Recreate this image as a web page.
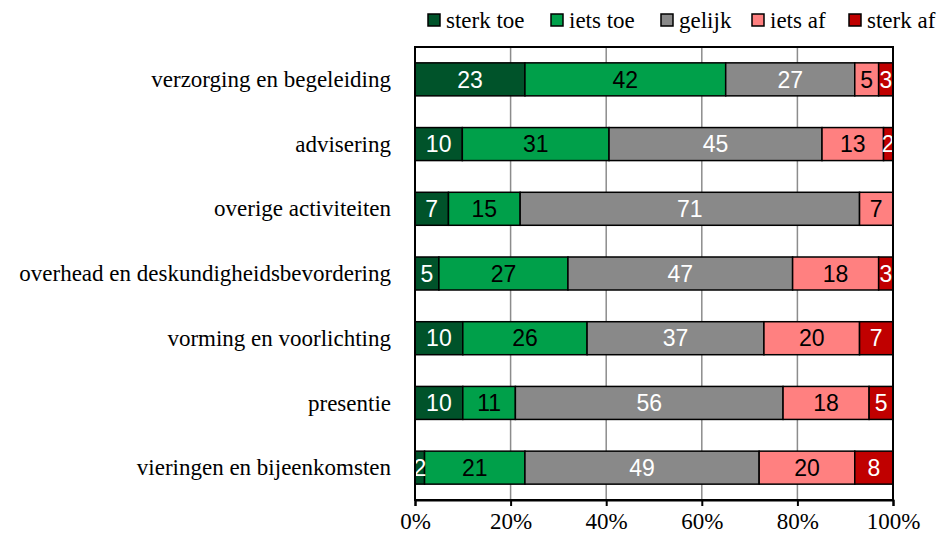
<!DOCTYPE html>
<html>
<head>
<meta charset="utf-8">
<script src="https://cdn.jsdelivr.net/npm/d3@7"></script>
<style>
  body { margin: 0; background: #fff; }
</style>
</head>
<body>
<div id="chart"></div>
<script>
const categories = [
  "verzorging en begeleiding",
  "advisering",
  "overige activiteiten",
  "overhead en deskundigheidsbevordering",
  "vorming en voorlichting",
  "presentie",
  "vieringen en bijeenkomsten",
];
const seriesNames = ["sterk toe", "iets toe", "gelijk", "iets af", "sterk af"];
const sterkToe = [23, 10, 7, 5, 10, 10, 2];
const ietsToe = [42, 31, 15, 27, 26, 11, 21];
const gelijk = [27, 45, 71, 47, 37, 56, 49];
const ietsAf = [5, 13, 7, 18, 20, 18, 20];
const sterkAf = [3, 2, 0, 3, 7, 5, 8];
const xTicks = [0, 0.2, 0.4, 0.6, 0.8, 1];

const colors = ["#00532a", "#00a04a", "#898989", "#ff8080", "#c00000"];
const labelColors = ["#fff", "#000", "#fff", "#000", "#fff"];
const serif = '"Liberation Serif", serif';
const sans = '"Liberation Sans", sans-serif';

const width = 938, height = 545;
const margin = { top: 47, right: 45, bottom: 45, left: 415 };

const svg = d3
  .select("#chart")
  .append("svg")
  .attr("width", width)
  .attr("height", height);

const x = d3
  .scaleLinear()
  .domain([0, 1])
  .range([margin.left, width - margin.right]);

const y = d3
  .scaleBand()
  .domain(categories)
  .range([margin.top, height - margin.bottom])
  .paddingInner(0.49)
  .paddingOuter(0.245);

// Build stacked rows (Excel 100% stack normalises each row)
const allSeries = [sterkToe, ietsToe, gelijk, ietsAf, sterkAf];
const rows = categories.map((cat, i) => {
  const vals = allSeries.map((s) => s[i]);
  const total = d3.sum(vals);
  let acc = 0;
  return vals.map((v, k) => {
    const seg = { cat, k, value: v, x0: acc / total, x1: (acc + v) / total };
    acc += v;
    return seg;
  });
});

// gridlines
svg
  .append("g")
  .selectAll("line")
  .data(xTicks.slice(1, -1))
  .join("line")
  .attr("x1", (d) => x(d))
  .attr("x2", (d) => x(d))
  .attr("y1", margin.top)
  .attr("y2", height - margin.bottom)
  .attr("stroke", "#8c8c8c")
  .attr("stroke-width", 1.5);

// bars
const segs = rows.flat().filter((d) => d.value > 0);
svg
  .append("g")
  .selectAll("rect")
  .data(segs)
  .join("rect")
  .attr("x", (d) => x(d.x0))
  .attr("y", (d) => y(d.cat))
  .attr("width", (d) => x(d.x1) - x(d.x0))
  .attr("height", y.bandwidth())
  .attr("fill", (d) => colors[d.k])
  .attr("stroke", "#000")
  .attr("stroke-width", 1.5);

svg
  .append("g")
  .selectAll("text")
  .data(segs)
  .join("text")
  .attr("x", (d) => (x(d.x0) + x(d.x1)) / 2)
  .attr("y", (d) => y(d.cat) + y.bandwidth() / 2)
  .attr("dy", "0.36em")
  .attr("text-anchor", "middle")
  .style("font-family", sans)
  .style("font-size", "23px")
  .attr("fill", (d) => labelColors[d.k])
  .text((d) => d.value);

// plot frame
svg
  .append("rect")
  .attr("x", margin.left)
  .attr("y", margin.top)
  .attr("width", x(1) - x(0))
  .attr("height", height - margin.bottom - margin.top)
  .attr("fill", "none")
  .attr("stroke", "#000")
  .attr("stroke-width", 2);

// x axis
const xAxis = svg
  .append("g")
  .attr("transform", `translate(0,${height - margin.bottom})`)
  .call(
    d3
      .axisBottom(x)
      .tickValues(xTicks)
      .tickSize(6)
      .tickPadding(7)
      .tickFormat(d3.format(".0%"))
  );
xAxis.select(".domain").attr("stroke", "#000").attr("stroke-width", 2);
xAxis.selectAll(".tick line").attr("stroke", "#000").attr("stroke-width", 2);
xAxis
  .selectAll(".tick text")
  .style("font-family", serif)
  .style("font-size", "23px")
  .attr("fill", "#000");

// category labels
svg
  .append("g")
  .selectAll("text")
  .data(categories)
  .join("text")
  .attr("x", margin.left - 24)
  .attr("y", (d) => y(d) + y.bandwidth() / 2)
  .attr("dy", "0.33em")
  .attr("text-anchor", "end")
  .style("font-family", serif)
  .style("font-size", "23px")
  .text((d) => d);

// legend
const legendX = [428, 551, 661, 752, 849];
const legend = svg
  .append("g")
  .selectAll("g")
  .data(seriesNames)
  .join("g")
  .attr("transform", (d, i) => `translate(${legendX[i]},14)`);
legend
  .append("rect")
  .attr("width", 12)
  .attr("height", 12)
  .attr("fill", (d, i) => colors[i])
  .attr("stroke", "#000")
  .attr("stroke-width", 1.5);
legend
  .append("text")
  .attr("x", 18)
  .attr("y", 6)
  .attr("dy", "0.33em")
  .style("font-family", serif)
  .style("font-size", "23px")
  .text((d) => d);
</script>
</body>
</html>
